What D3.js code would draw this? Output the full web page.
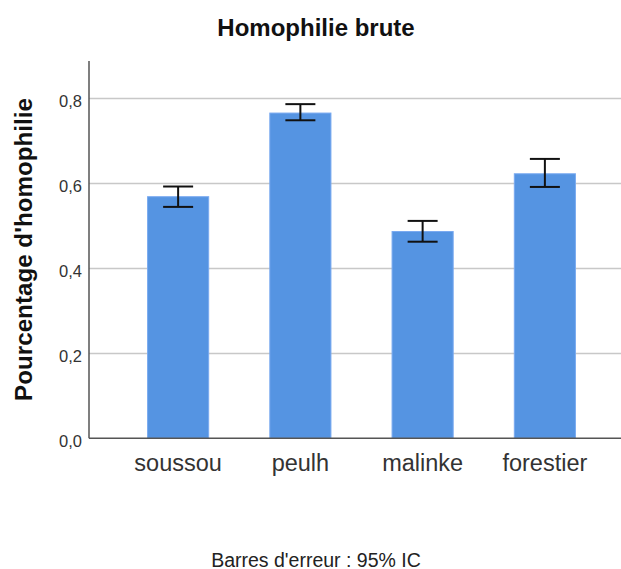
<!DOCTYPE html>
<html><head><meta charset="utf-8">
<script src="https://cdn.jsdelivr.net/npm/d3@7"></script>
<style>body{margin:0;background:#fff}svg{display:block}</style>
</head><body><svg id="c" width="621" height="569"></svg>
<script>
const categories = ["soussou", "peulh", "malinke", "forestier"];
const means = [0.569, 0.766, 0.487, 0.623];
const ciLow = [0.545, 0.749, 0.463, 0.592];
const ciHigh = [0.593, 0.787, 0.512, 0.658];
const yTicks = [0, 0.2, 0.4, 0.6, 0.8];
const yTickLabels = ["0,0", "0,2", "0,4", "0,6", "0,8"];
const title = "Homophilie brute";
const yTitle = "Pourcentage d'homophilie";
const footnote = "Barres d'erreur : 95% IC";

(function () {
const svg = d3.select("#c");
const font = "'Liberation Sans', Arial, sans-serif";
const pLeft = 89, pRight = 621, pTop = 61, pBottom = 438.3;

const x = d3.scaleBand().domain(categories).range([117, 606]).paddingInner(0.5).paddingOuter(0.25);
const y = d3.scaleLinear().domain([0, 0.8886]).range([pBottom, pTop]);

// gridlines
svg.append("g").selectAll("line").data(yTicks.filter(d => d > 0)).join("line")
  .attr("x1", pLeft).attr("x2", pRight).attr("y1", d => y(d)).attr("y2", d => y(d))
  .attr("stroke", "#c8c8c8").attr("stroke-width", 1.5);

// bars
svg.append("g").selectAll("rect").data(categories).join("rect")
  .attr("x", d => x(d)).attr("width", x.bandwidth())
  .attr("y", (d, i) => y(means[i])).attr("height", (d, i) => pBottom - y(means[i]))
  .attr("fill", "#5594e2").attr("stroke", "#7aaaf0").attr("stroke-width", 1);

// y axis
const yAxis = d3.axisLeft(y).tickValues(yTicks).tickFormat((d, i) => yTickLabels[i]).tickSize(0).tickPadding(7);
const gy = svg.append("g").attr("transform", `translate(${pLeft},0)`).call(yAxis);
gy.select(".domain").remove();
gy.selectAll("text").attr("font-family", font).attr("font-size", 16.5).attr("dy", "0.5em").attr("fill", "#333");
svg.append("line").attr("x1", pLeft).attr("x2", pLeft).attr("y1", pTop).attr("y2", pBottom)
  .attr("stroke", "#555").attr("stroke-width", 1.5);

// x axis
const xAxis = d3.axisBottom(x).tickSize(0).tickPadding(16);
const gx = svg.append("g").attr("transform", `translate(0,${pBottom})`).call(xAxis);
gx.select(".domain").remove();
gx.selectAll("text").attr("font-family", font).attr("font-size", 23.5).attr("fill", "#333");
svg.append("line").attr("x1", pLeft).attr("x2", pRight).attr("y1", pBottom).attr("y2", pBottom)
  .attr("stroke", "#555").attr("stroke-width", 1.5);

// error bars
const eb = svg.append("g").attr("stroke", "#111").attr("stroke-width", 2);
categories.forEach((c, i) => {
  const cx = x(c) + x.bandwidth() / 2;
  eb.append("line").attr("x1", cx).attr("x2", cx).attr("y1", y(ciHigh[i])).attr("y2", y(ciLow[i]));
  eb.append("line").attr("x1", cx - 15).attr("x2", cx + 15).attr("y1", y(ciHigh[i])).attr("y2", y(ciHigh[i]));
  eb.append("line").attr("x1", cx - 15).attr("x2", cx + 15).attr("y1", y(ciLow[i])).attr("y2", y(ciLow[i]));
});

// titles
svg.append("text").attr("x", 316).attr("y", 36.3).attr("text-anchor", "middle")
  .attr("font-family", font).attr("font-weight", "bold").attr("font-size", 24).attr("fill", "#111").text(title);
svg.append("text").attr("transform", "translate(32,249.5) rotate(-90)").attr("text-anchor", "middle")
  .attr("font-family", font).attr("font-weight", "bold").attr("font-size", 24.2).attr("fill", "#111").text(yTitle);
svg.append("text").attr("x", 316).attr("y", 566.5).attr("text-anchor", "middle")
  .attr("font-family", font).attr("font-size", 19.5).attr("fill", "#222").text(footnote);
})();
</script></body></html>
